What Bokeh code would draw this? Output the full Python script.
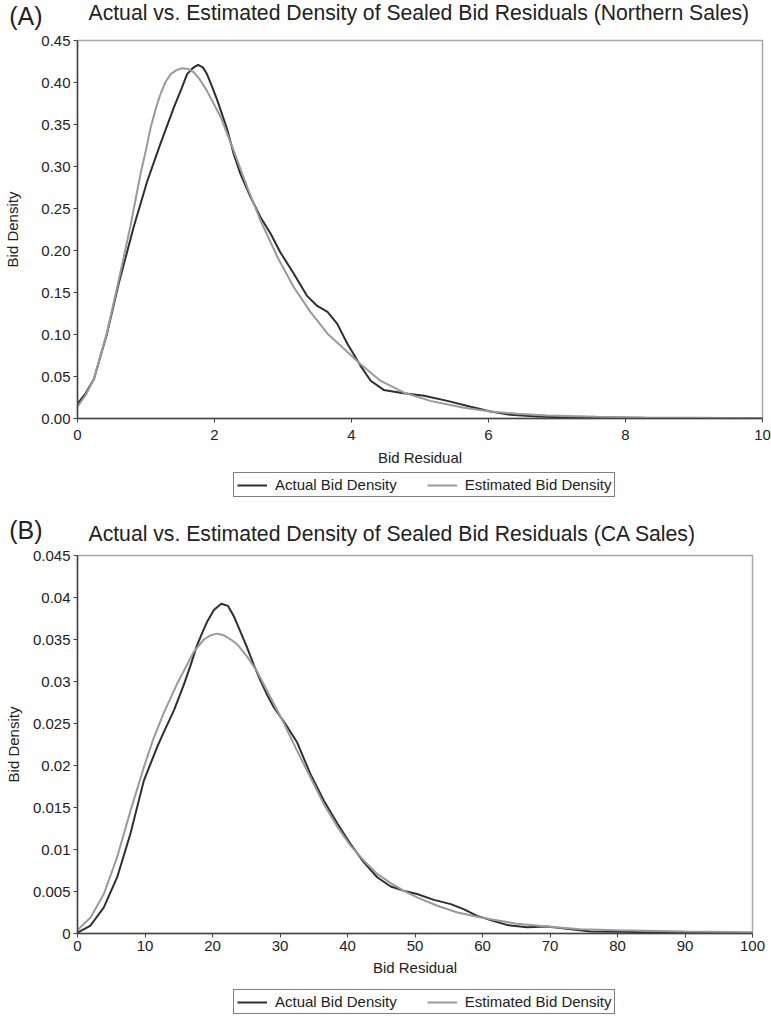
from bokeh.plotting import figure
from bokeh.models import (Legend, LegendItem, FixedTicker, NumeralTickFormatter,
                          CustomJSTickFormatter, Range1d)
from bokeh.core.properties import value
from bokeh.layouts import column
from bokeh.embed import file_html
from bokeh.resources import INLINE

# ---------------- data: panel A (Northern sales) ----------------
a_actual_x = [0, 0.12, 0.24, 0.43, 0.60, 0.82, 1.02, 1.21, 1.41, 1.52, 1.60, 1.68, 1.76, 1.83,
              1.89, 1.96, 2.04, 2.19, 2.28, 2.38, 2.53, 2.67, 2.82, 2.96, 3.16, 3.35, 3.50,
              3.65, 3.79, 3.94, 4.13, 4.28, 4.47, 4.76, 5.06, 5.40, 5.74, 6.03, 6.32, 6.71,
              7.20, 8.30, 9.30, 10.0]
a_actual_y = [0.0175, 0.030, 0.047, 0.101, 0.160, 0.228, 0.283, 0.327, 0.371, 0.393, 0.410,
              0.417, 0.421, 0.418, 0.410, 0.396, 0.379, 0.343, 0.315, 0.291, 0.263, 0.240,
              0.220, 0.198, 0.172, 0.146, 0.134, 0.127, 0.113, 0.089, 0.063, 0.045, 0.034,
              0.030, 0.027, 0.021, 0.014, 0.0083, 0.0044, 0.0024, 0.0012, 0.0006, 0.0004,
              0.0001]
a_est_x = [0, 0.12, 0.24, 0.43, 0.60, 0.77, 0.92, 1.00, 1.07, 1.14, 1.21, 1.28, 1.36, 1.45,
           1.53, 1.62, 1.70, 1.79, 1.89, 2.09, 2.28, 2.48, 2.67, 2.92, 3.16, 3.40, 3.65,
           3.89, 4.13, 4.42, 4.76, 5.15, 5.64, 6.03, 6.42, 6.86, 7.59, 8.30, 9.00, 9.50,
           10.0]
a_est_y = [0.014, 0.028, 0.047, 0.102, 0.164, 0.228, 0.291, 0.320, 0.347, 0.368, 0.386,
           0.400, 0.410, 0.415, 0.417, 0.416, 0.412, 0.403, 0.390, 0.359, 0.319, 0.275,
           0.236, 0.192, 0.156, 0.127, 0.101, 0.083, 0.065, 0.045, 0.031, 0.021, 0.0127,
           0.0083, 0.0056, 0.0036, 0.0020, 0.0012, 0.0008, 0.0005, 0.0003]
a_xticks = [0, 2, 4, 6, 8, 10]
a_yticks = [0, 0.05, 0.10, 0.15, 0.20, 0.25, 0.30, 0.35, 0.40, 0.45]

# ---------------- data: panel B (CA sales) ----------------
b_actual_x = [0, 1.93, 3.9, 5.88, 7.85, 9.83, 11.8, 12.8, 14.3, 15.7, 16.7, 17.7, 18.7, 19.2,
              20.2, 21.3, 22.3, 23.2, 24.1, 25.1, 26.1, 27.1, 28.1, 29.1, 30.6, 32.5, 34.5,
              36.5, 38.5, 40.4, 42.4, 44.4, 46.4, 48.3, 50.3, 52.8, 55.3, 57.2, 59.2, 61.2,
              63.7, 66.6, 69.6, 72.5, 76.0, 80, 90, 100]
b_actual_y = [0.0001, 0.00095, 0.0031, 0.0067, 0.0119, 0.0182, 0.0222, 0.0240, 0.0266,
              0.0295, 0.0318, 0.0343, 0.0362, 0.0371, 0.0385, 0.03925, 0.0390, 0.0377,
              0.0360, 0.0341, 0.0320, 0.0301, 0.0284, 0.0269, 0.0252, 0.0228, 0.0190,
              0.0158, 0.0131, 0.0107, 0.0085, 0.0067, 0.0056, 0.0051, 0.0047, 0.0040,
              0.0035, 0.0029, 0.0021, 0.0016, 0.0010, 0.00075, 0.00083, 0.00055, 0.00024,
              0.0002, 0.0001, 0.00005]
b_est_x = [0, 1.93, 3.9, 5.88, 7.85, 9.83, 11.3, 12.8, 14.8, 17.2, 18.7, 19.7, 20.7, 21.7,
           22.7, 23.7, 25.1, 26.6, 28.6, 30.6, 32.5, 34.5, 36.5, 38.5, 40.4, 42.4, 44.4,
           46.4, 48.3, 50.3, 53.3, 56.3, 59.2, 61.2, 65.1, 69.6, 74.5, 80, 90, 100]
b_est_y = [0.0004, 0.0019, 0.0047, 0.0091, 0.0146, 0.0198, 0.0233, 0.0263, 0.0298, 0.0335,
           0.0350, 0.0355, 0.0357, 0.0355, 0.0350, 0.0344, 0.0330, 0.0312, 0.0281, 0.0250,
           0.0218, 0.0186, 0.0154, 0.0127, 0.0105, 0.0087, 0.0071, 0.0060, 0.0051, 0.0043,
           0.0033, 0.0025, 0.0020, 0.0017, 0.00115, 0.00083, 0.0005, 0.0004, 0.00025,
           0.00015]
b_xticks = [0, 10, 20, 30, 40, 50, 60, 70, 80, 90, 100]
b_yticks = [0, 0.005, 0.01, 0.015, 0.02, 0.025, 0.03, 0.035, 0.04, 0.045]

panel_letters = ["(A)", "(B)"]
titles = ["Actual vs. Estimated Density of Sealed Bid Residuals (Northern Sales)",
          "Actual vs. Estimated Density of Sealed Bid Residuals (CA Sales)"]
series_labels = ["Actual Bid Density", "Estimated Bid Density"]
x_label = "Bid Residual"
y_label = "Bid Density"

FONT = "Liberation Sans"
DARK = "#2e2e2e"
GRAY = "#9a9a9a"
TXT = "#222222"
W = 771
LEFT = 77
NAN = float("nan")


def strip(height, frame_w):
    """Figure with no visible axes whose data units equal canvas pixels."""
    f = figure(width=W, height=height, frame_width=frame_w, frame_height=height,
               min_border_left=LEFT, min_border_right=W - LEFT - frame_w,
               min_border_top=0, min_border_bottom=0, output_backend="svg",
               toolbar_location=None, x_axis_type=None,
               x_range=Range1d(LEFT, LEFT + frame_w), y_range=Range1d(height, 0))
    f.outline_line_color = None
    f.xgrid.visible = False
    f.ygrid.visible = False
    ax = f.yaxis[0]
    ax.axis_line_color = None
    ax.major_tick_line_color = None
    ax.minor_tick_line_color = None
    ax.major_tick_in = 0
    ax.major_tick_out = 0
    ax.ticker = FixedTicker(ticks=[])
    return f


def header(height, frame_w, letter, letter_y, title, title_y):
    h = strip(height, frame_w)
    ax = h.yaxis[0]
    ax.ticker = FixedTicker(ticks=[letter_y])
    ax.major_label_overrides = {letter_y: letter}
    ax.major_label_text_font = FONT
    ax.major_label_text_font_size = "25px"
    ax.major_label_text_color = TXT
    ax.major_label_standoff = 35
    h.text(x=[88], y=[title_y], text=[title], text_font=value(FONT),
           text_font_size="21.2px", text_color=TXT, text_baseline="middle",
           text_align="left")
    return h


def legend_strip(height, frame_w, ybot):
    f = strip(height, frame_w)
    # legend-only renderers (no visible data in this strip)
    r1 = f.line(x=[NAN, NAN], y=[NAN, NAN], line_color=DARK, line_width=2)
    r2 = f.line(x=[NAN, NAN], y=[NAN, NAN], line_color=GRAY, line_width=2)
    lg = Legend(items=[LegendItem(label=series_labels[0], renderers=[r1]),
                       LegendItem(label=series_labels[1], renderers=[r2])],
                orientation="horizontal", location=(156, ybot),
                border_line_color="black", border_line_width=1,
                label_text_font=FONT, label_text_font_size="15px",
                label_text_color=TXT, glyph_width=30, label_standoff=8,
                spacing=30, padding=3, margin=0, label_height=14, glyph_height=14)
    f.add_layout(lg, "center")
    return f


def main(ax, ay, ex, ey, xmax, ymax, xticks, yticks, yfmt, frame_w, bottom,
         xl_standoff, xa_standoff, ya_standoff):
    p = figure(width=W, height=8 + 378 + bottom, frame_width=frame_w, frame_height=378,
               min_border_left=LEFT, min_border_right=W - LEFT - frame_w, min_border_top=8,
               min_border_bottom=bottom, output_backend="svg", toolbar_location=None,
               x_range=Range1d(0, xmax), y_range=Range1d(0, ymax))
    p.outline_line_color = "#a8a8a8"
    p.outline_line_width = 1.5
    p.xgrid.visible = False
    p.ygrid.visible = False
    for axis in (p.xaxis[0], p.yaxis[0]):
        axis.axis_line_color = "#444444"
        axis.axis_line_width = 1.5
        axis.major_tick_line_color = "#444444"
        axis.major_tick_in = 0
        axis.major_tick_out = 4
        axis.minor_tick_line_color = None
        axis.major_label_text_font = FONT
        axis.major_label_text_font_size = "15px"
        axis.major_label_text_color = TXT
        axis.axis_label_text_font = FONT
        axis.axis_label_text_font_size = "15px"
        axis.axis_label_text_font_style = "normal"
        axis.axis_label_text_color = TXT
    p.xaxis.ticker = FixedTicker(ticks=xticks)
    p.yaxis.ticker = FixedTicker(ticks=yticks)
    p.yaxis.formatter = yfmt
    p.xaxis.axis_label = x_label
    p.yaxis.axis_label = y_label
    p.xaxis.major_label_standoff = xl_standoff
    p.xaxis.axis_label_standoff = xa_standoff
    p.yaxis.major_label_standoff = 3
    p.yaxis.axis_label_standoff = ya_standoff
    p.line(ax, ay, line_color=DARK, line_width=2)
    p.line(ex, ey, line_color=GRAY, line_width=2)
    return p


ha = header(32, 685, panel_letters[0], 15, titles[0], 11.5)
pa = main(a_actual_x, a_actual_y, a_est_x, a_est_y, 10, 0.45, a_xticks, a_yticks,
          NumeralTickFormatter(format="0.00"), 685, 52, 7, 6, 17)
la = legend_strip(35, 685, 8)

hb = header(42, 675, panel_letters[1], 24, titles[1], 28)
pb = main(b_actual_x, b_actual_y, b_est_x, b_est_y, 100, 0.045, b_xticks, b_yticks,
          CustomJSTickFormatter(code="return String(Number(tick.toFixed(4)));"),
          675, 46, 3, 5, 8)
lb = legend_strip(38, 675, 3)

layout = column(ha, pa, la, hb, pb, lb, spacing=0)
open("out.html", "w").write(file_html(layout, INLINE))
